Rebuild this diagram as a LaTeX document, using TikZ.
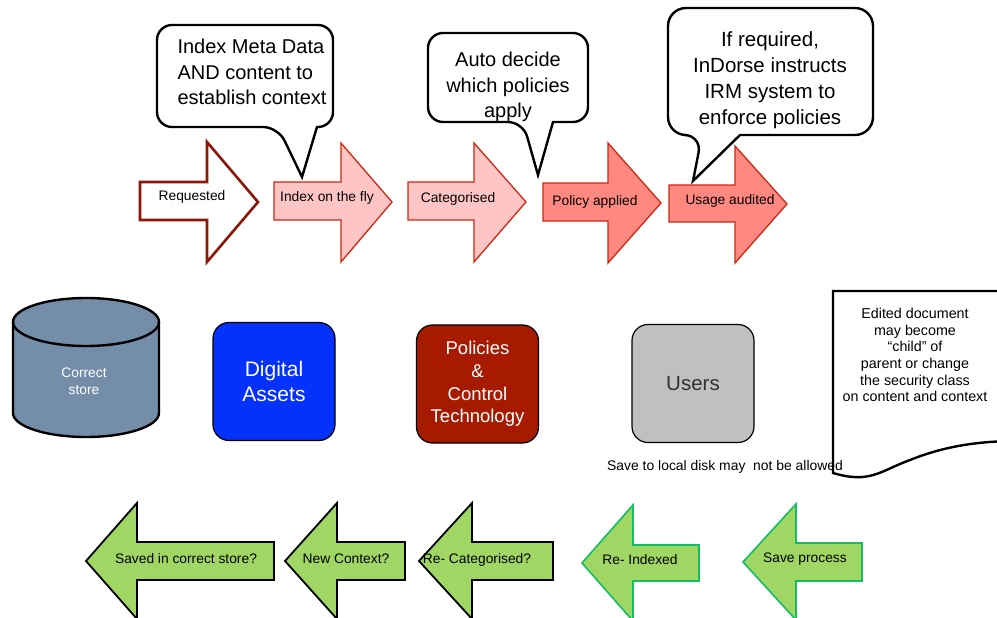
\documentclass[tikz,border=0pt]{standalone}
\usepackage{fontspec}
\setmainfont{Liberation Sans}
\definecolor{reqred}{RGB}{140,22,8}
\definecolor{arrred}{RGB}{205,40,18}
\definecolor{pinkfill}{RGB}{255,196,196}
\definecolor{salmonfill}{RGB}{255,136,128}
\definecolor{greenfill}{RGB}{160,214,100}
\definecolor{greenline}{RGB}{20,190,100}
\definecolor{assetblue}{RGB}{5,50,250}
\definecolor{policyred}{RGB}{166,26,0}
\definecolor{usergray}{RGB}{192,192,192}
\definecolor{storegray}{RGB}{116,142,170}
\definecolor{usertext}{RGB}{50,50,50}
\tikzset{
  reqarrow/.style={draw=reqred, line width=2.6pt, fill=white, line join=miter},
  pinkarrow/.style={draw=arrred, line width=1.3pt, fill=pinkfill, line join=miter},
  salmonarrow/.style={draw=arrred, line width=1.3pt, fill=salmonfill, line join=miter},
  blackgreen/.style={draw=black, line width=1.8pt, fill=greenfill, line join=miter},
  greengreen/.style={draw=greenline, line width=1.6pt, fill=greenfill, line join=miter},
  small/.style={font=\fontsize{13.8}{16}\selectfont, inner sep=0pt},
  callout/.style={draw=black, line width=2.4pt, fill=white, line join=miter},
  calltext/.style={font=\fontsize{20}{25.5}\selectfont, inner sep=0pt},
  bigbox/.style={draw=black, line width=1.2pt, rounded corners=16pt, minimum width=122pt, minimum height=118pt, align=center, inner sep=0pt},
  docshape/.style={draw=black, line width=2.4pt, fill=white, line join=miter},
}
\begin{document}
\begin{tikzpicture}[x=1pt,y=-1pt]
\useasboundingbox (0,0) rectangle (997,618);
\fill[white] (0,0) rectangle (997,618);

% ---- top row of arrows
\draw[reqarrow] (140,182) -- (207,182) -- (207,142) -- (258,202) -- (207,262) -- (207,220) -- (140,220) -- cycle;
\draw[pinkarrow] (274,182) -- (341,182) -- (341,143) -- (392,202) -- (341,262) -- (341,220) -- (274,220) -- cycle;
\draw[pinkarrow] (408,182) -- (474,182) -- (474,143) -- (526,202) -- (474,262) -- (474,220) -- (408,220) -- cycle;
\draw[salmonarrow] (543,183) -- (608,183) -- (608,143) -- (661,203) -- (608,263) -- (608,221) -- (543,221) -- cycle;
\draw[salmonarrow] (669,185) -- (735,185) -- (735,146) -- (787,204) -- (735,263) -- (735,222) -- (669,222) -- cycle;
\node[small] (req) at (192,197) {Requested};
\node[small] (idx) at (327,198) {Index on the fly};
\node[small] (cat) at (458,199) {Categorised};
\node[small] (pol) at (595,202) {Policy applied};
\node[small] (use) at (730,201) {Usage audited};

% ---- callouts
\draw[callout] (245,25) [rounded corners=15pt] -- (157,25) -- (157,127) -- (278,127) [sharp corners] -- (302,177) -- (317,127) [rounded corners=15pt] -- (333,127) -- (333,25) -- cycle;
\draw[callout] (508,33) [rounded corners=15pt] -- (428,33) -- (428,122) -- (523,122) [sharp corners] -- (538,175) -- (553,122) [rounded corners=15pt] -- (588,122) -- (588,33) -- cycle;
\draw[callout] (770,8) [rounded corners=18pt] -- (668,8) -- (668,135) -- (702,135) [sharp corners] -- (693,181) -- (740,135) [rounded corners=18pt] -- (873,135) -- (873,8) -- cycle;
\node[calltext, align=left] (c1) at (252,72) {Index Meta Data\\AND content to\\establish context};
\node[calltext, align=center] (c2) at (508,87) {Auto decide\\which policies\\apply};
\node[calltext, align=center, font=\fontsize{20.5}{26}\selectfont] (c3) at (770,80) {If required,\\InDorse instructs\\IRM system to\\enforce policies};

% ---- cylinder
\draw[fill=storegray, line width=2.4pt] (13,322) -- (13,413)
  .. controls (13,426.25) and (45.7,437) .. (86,437)
  .. controls (126.3,437) and (159,426.25) .. (159,413)
  -- (159,322)
  .. controls (159,308.75) and (126.3,298) .. (86,298)
  .. controls (45.7,298) and (13,308.75) .. (13,322) -- cycle;
\draw[line width=2.4pt] (13,322) .. controls (13,335.25) and (45.7,346) .. (86,346)
  .. controls (126.3,346) and (159,335.25) .. (159,322);
\node[small, text=white, align=center, font=\fontsize{13.8}{17}\selectfont] (store) at (84,381) {Correct\\store};

% ---- boxes
\node[bigbox, fill=assetblue, text=white, font=\fontsize{21}{25}\selectfont] (assets) at (274,381.5) {Digital\\Assets};
\node[bigbox, fill=policyred, text=white, font=\fontsize{18.5}{22.7}\selectfont] (policies) at (477.5,384) {Policies\\\&\\Control\\Technology};
\node[bigbox, fill=usergray, text=usertext, font=\fontsize{20.5}{25}\selectfont] (users) at (693,383.5) {Users};

% ---- document
\draw[docshape] (833,473) -- (833,291) -- (1010,291) -- (1010,441)
  .. controls (970,442) and (940,448) .. (910,460)
  .. controls (880,471) and (870,484) .. (833,473) -- cycle;
\node[align=center, inner sep=0pt, font=\fontsize{14.3}{16.6}\selectfont] (doc) at (915,355) {Edited document\\may become\\“child” of\\parent or change\\the security class\\on content and context};
\node[small, anchor=west, font=\fontsize{13.9}{16}\selectfont] (save) at (607,467) {Save to local disk may\ \ not be allowed};

% ---- bottom row of arrows
\draw[blackgreen] (86,561) -- (137,503) -- (137,542) -- (274,542) -- (274,580) -- (137,580) -- (137,619) -- cycle;
\draw[blackgreen] (285,561) -- (337,503) -- (337,542) -- (405,542) -- (405,580) -- (337,580) -- (337,619) -- cycle;
\draw[blackgreen] (419,561) -- (472,503) -- (472,542) -- (553,542) -- (553,580) -- (472,580) -- (472,619) -- cycle;
\draw[greengreen] (582,563) -- (633,505) -- (633,545) -- (699,545) -- (699,581) -- (633,581) -- (633,621) -- cycle;
\draw[greengreen] (743,562) -- (796,504) -- (796,543) -- (862,543) -- (862,581) -- (796,581) -- (796,620) -- cycle;
\node[small] (saved) at (186,559) {Saved in correct store?};
\node[small] (ctx) at (346,559) {New Context?};
\node[small] (recat) at (477,560) {Re- Categorised?};
\node[small] (reidx) at (640,560) {Re- Indexed};
\node[small] (savep) at (805,559) {Save process};
\end{tikzpicture}
\end{document}
